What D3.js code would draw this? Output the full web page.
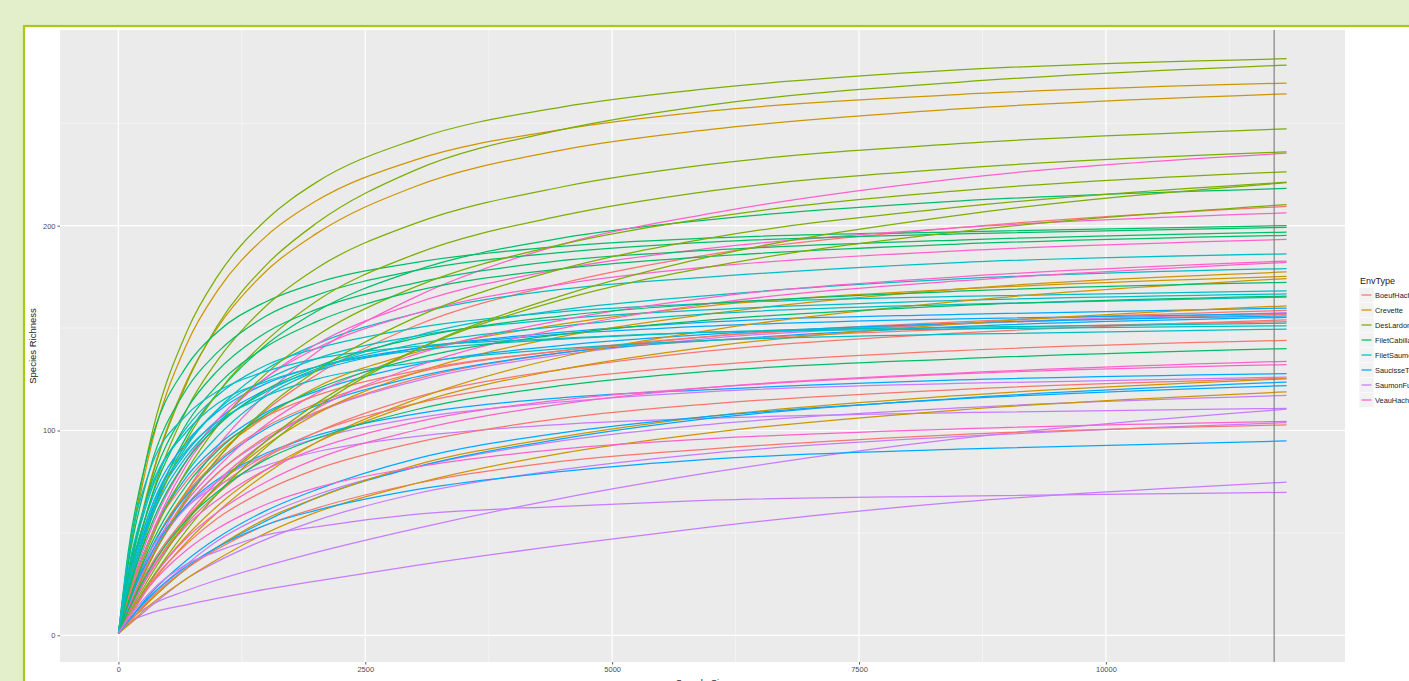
<!DOCTYPE html>
<html>
<head>
<meta charset="utf-8">
<script src="https://cdn.jsdelivr.net/npm/d3@7"></script>
<style>
  html, body { margin: 0; padding: 0; background: #e2efca; overflow: hidden; }
  svg { display: block; }
</style>
</head>
<body>
<svg id="chart" width="1409" height="681"></svg>
<script>
// sample sizes at which each rarefaction curve is read
const depths = [1, 100, 300, 700, 1000, 1500, 2000, 3000, 4500, 6000, 8500, 11830];

const envTypes = ["BoeufHache", "Crevette", "DesLardons", "FiletCabillaud",
  "FiletSaumon", "SaucisseToulouse", "SaumonFume", "VeauHache"];
const envColors = ["#F8766D", "#CD9600", "#7CAE00", "#00BE67",
  "#00BFC4", "#00A9FF", "#C77CFF", "#FF61CC"];

// species richness per sample, one row per sample, values at `depths`
const boeufHache = [
  [1, 13, 35, 68, 86, 110, 127, 151, 172, 186, 199, 209.4],
  [1, 13, 35, 64, 79, 97, 109, 125, 138, 146, 153, 158.6],
  [1, 15, 39, 70, 85, 102, 113, 128, 139, 146, 152, 156.8],
  [1, 11, 29, 55, 69, 87, 99, 116, 130, 139, 147.5, 154],
  [1, 18, 45, 76, 91, 107, 117, 129, 139, 144, 149.5, 153.2],
  [1, 12, 32, 58, 72, 88, 99, 113, 125, 132, 139, 144],
  [1, 9, 24, 45, 57, 71, 81, 94, 106, 113, 120, 125.5],
  [1, 6, 17, 33, 42, 54, 62, 74, 85, 91, 98, 102.8]
];
const crevette = [
  [1, 36, 86, 143, 168, 195, 212, 232, 247, 256, 264, 269.6],
  [1, 29, 71, 125, 150, 178, 196, 219, 237, 247, 257, 264.4],
  [1, 11, 29, 57, 73, 93, 108, 128, 146, 157, 169, 177.4],
  [1, 15, 39, 71, 88, 107, 121, 138, 152, 161, 169, 175.2],
  [1, 8, 23, 46, 60, 79, 94, 115, 136, 149, 163, 174.2],
  [1, 9, 25, 49, 63, 81, 94, 113, 130, 141, 152, 160.9],
  [1, 6, 16, 33, 43, 57, 67, 83, 97, 107, 117, 125.2],
  [1, 5, 14, 28, 37, 50, 60, 74, 89, 99, 110, 118.8]
];
const desLardons = [
  [1, 37, 90, 149, 175, 203, 221, 242, 258, 267, 276, 281.5],
  [1, 27, 70, 124, 151, 181, 201, 227, 247, 259, 270, 278.4],
  [1, 24, 62, 111, 134, 161, 179, 201, 219, 230, 240, 247.3],
  [1, 20, 52, 96, 118, 144, 163, 186, 205, 217, 228, 236],
  [1, 16, 43, 81, 102, 128, 146, 170, 191, 204, 217, 226.3],
  [1, 12, 34, 67, 86, 111, 129, 155, 179, 194, 209, 221.2],
  [1, 9, 25, 52, 69, 92, 111, 139, 166, 185, 205, 221],
  [1, 10, 27, 56, 73, 95, 113, 139, 164, 180, 197, 210.3]
];
const filetCabillaud = [
  [1, 22, 55, 98, 118, 142, 158, 178, 194, 203, 212, 218.2],
  [1, 41, 89, 132, 148, 163, 172, 182, 190, 194, 197, 200],
  [1, 35, 78, 121, 138, 156, 166, 178, 187, 192, 196, 199.2],
  [1, 30, 69, 111, 129, 148, 159, 172, 183, 188, 193, 196.9],
  [1, 26, 62, 104, 122, 141, 153, 168, 179, 185, 191, 195.3],
  [1, 21, 50, 86, 102, 120, 131, 145, 156, 162, 168, 172.3],
  [1, 16, 41, 74, 90, 108, 120, 135, 147, 154, 161, 165.6],
  [1, 12, 31, 57, 70, 86, 96, 110, 122, 129, 135, 140]
];
const filetSaumon = [
  [1, 22, 54, 93, 110, 130, 142, 157, 169, 175, 182, 186.2],
  [1, 18, 45, 80, 97, 117, 129, 146, 159, 166, 174, 179],
  [1, 29, 66, 102, 117, 132, 140, 150, 158, 162, 165.5, 168.2],
  [1, 25, 58, 94, 110, 125, 135, 146, 154.5, 159, 163.5, 166.7],
  [1, 22, 53, 88, 103, 119, 130, 142, 151, 157, 161.6, 165.1],
  [1, 32, 68, 100, 113, 124, 131, 139, 144.6, 148, 150.4, 152.4],
  [1, 39, 78, 108, 119, 129, 135, 141, 145, 148, 149.6, 151.1],
  [1, 26, 58, 91, 104, 117, 125, 133, 140, 144, 147, 149.5]
];
const saucisse = [
  [1, 24, 56, 90, 105, 120, 129, 140, 148, 153, 156.7, 159.7],
  [1, 27, 61, 95, 109, 123, 131, 140, 147, 151, 154.5, 157],
  [1, 19, 45, 78, 92.5, 109, 119, 132, 141.5, 147, 152.3, 156],
  [1, 15, 39, 69, 84, 101, 112, 126, 138, 144, 150.7, 155.2],
  [1, 15, 37, 64, 76, 89, 97.5, 108, 116, 120, 124.7, 127.8],
  [1, 6, 16, 33, 43, 56, 67, 82, 96, 106, 115.7, 123.6],
  [1, 7, 19, 37, 47.5, 61, 71, 86, 99, 107, 115.4, 121.9],
  [1, 7, 18, 34, 43, 54, 61, 71, 80, 86, 90.9, 94.9]
];
const saumonFume = [
  [1, 13, 35, 64, 79, 96, 108.5, 124, 137, 145, 152, 157.5],
  [1, 15, 37, 63, 75, 88, 96, 106, 114, 119, 123, 126],
  [1, 7, 18, 35, 46, 59, 68.5, 82, 95, 103, 111, 117.1],
  [1, 17, 39, 63, 73, 83, 89.5, 97, 103, 106, 108.7, 110.8],
  [1, 7, 14, 22, 27, 34, 40.5, 52, 67, 79.5, 96, 110.4],
  [1, 5, 13, 28, 36, 47, 56, 69, 81, 89, 97, 103.8],
  [1, 6, 10.5, 15, 18, 22.5, 26.5, 34, 44, 53, 65, 74.8],
  [1, 8, 20, 35, 41, 49, 53, 59, 63, 66, 68, 69.8]
];
const veauHache = [
  [1, 13, 36, 71, 92, 118, 138, 165, 191, 206, 223, 235.4],
  [1, 17, 45, 84, 103, 126, 142, 162, 179, 189, 199, 206.2],
  [1, 19, 48, 86, 105, 126, 140, 157, 171.5, 180, 187.7, 193.3],
  [1, 13, 34, 66, 82, 103, 118, 137, 154, 165, 175, 182.7],
  [1, 11, 30, 59, 75, 95, 110.5, 131, 150, 162, 173, 182.1],
  [1, 9, 25, 48, 60, 75, 86, 100, 113, 121, 128, 133.8],
  [1, 11, 29, 54, 66, 81, 91, 104, 115, 121, 127.6, 132.2],
  [1, 9, 23, 42, 52, 64, 72, 82, 91, 96, 100.8, 104.5]
];

const xTicks = [0, 2500, 5000, 7500, 10000];
const yTicks = [0, 100, 200];
const minDepth = 11704;   // vertical reference line

const groups = [boeufHache, crevette, desLardons, filetCabillaud,
  filetSaumon, saucisse, saumonFume, veauHache];

// ---- layout
const panel = { left: 60, right: 1345, top: 30, bottom: 662 };

const xMin = 0, xMax = d3.max(depths);
const yMin = 1, yMax = d3.max(groups.flat(), r => d3.max(r));
const xPad = (xMax - xMin) * 0.05, yPad = (yMax - yMin) * 0.05;

const x = d3.scaleLinear().domain([xMin - xPad, xMax + xPad]).range([panel.left, panel.right]);
const y = d3.scaleLinear().domain([yMin - yPad, yMax + yPad]).range([panel.bottom, panel.top]);

const svg = d3.select("#chart");

// page frame
svg.append("rect").attr("width", 1409).attr("height", 681).attr("fill", "#e2efca");
svg.append("rect")
  .attr("x", 24).attr("y", 26).attr("width", 1420).attr("height", 700)
  .attr("fill", "#ffffff").attr("stroke", "#a6cb16").attr("stroke-width", 2.2);

// panel background
svg.append("rect")
  .attr("x", panel.left).attr("y", panel.top)
  .attr("width", panel.right - panel.left).attr("height", panel.bottom - panel.top)
  .attr("fill", "#ebebeb");

const grid = svg.append("g").attr("id", "grid");
const xMinor = d3.range(-1250, xMax + xPad, 2500).filter(v => x(v) > panel.left && x(v) < panel.right);
const yMinor = [-50, 50, 150, 250].filter(v => y(v) > panel.top && y(v) < panel.bottom);

grid.selectAll(".xminor").data(xMinor).join("line")
  .attr("x1", d => x(d)).attr("x2", d => x(d))
  .attr("y1", panel.top).attr("y2", panel.bottom)
  .attr("stroke", "#fafafa").attr("stroke-width", 0.6);
grid.selectAll(".yminor").data(yMinor).join("line")
  .attr("x1", panel.left).attr("x2", panel.right)
  .attr("y1", d => y(d)).attr("y2", d => y(d))
  .attr("stroke", "#fafafa").attr("stroke-width", 0.6);
grid.selectAll(".xmajor").data(xTicks).join("line")
  .attr("x1", d => x(d)).attr("x2", d => x(d))
  .attr("y1", panel.top).attr("y2", panel.bottom)
  .attr("stroke", "#ffffff").attr("stroke-width", 1.2);
grid.selectAll(".ymajor").data(yTicks).join("line")
  .attr("x1", panel.left).attr("x2", panel.right)
  .attr("y1", d => y(d)).attr("y2", d => y(d))
  .attr("stroke", "#ffffff").attr("stroke-width", 1.2);

// curves
const line = d3.line()
  .x((d, i) => x(depths[i]))
  .y(d => y(d))
  .curve(d3.curveMonotoneX);

// draw samples interleaved across groups, like ggplot's sample order
const curves = [];
for (let i = 0; i < 8; i++) {
  groups.forEach((rows, g) => curves.push({ g, values: rows[i] }));
}

svg.append("g").attr("id", "curves")
  .selectAll("path").data(curves).join("path")
  .attr("d", d => line(d.values))
  .attr("fill", "none")
  .attr("stroke", d => envColors[d.g])
  .attr("stroke-width", 1.25);

// vertical reference line
svg.append("line")
  .attr("x1", x(minDepth)).attr("x2", x(minDepth))
  .attr("y1", panel.top).attr("y2", panel.bottom)
  .attr("stroke", "#7a7a7a").attr("stroke-width", 1.1);

// axes
const xAxis = svg.append("g").attr("transform", `translate(0,${panel.bottom})`)
  .call(d3.axisBottom(x).tickValues(xTicks).tickSize(2.5).tickPadding(2).tickFormat(d3.format("d")));
const yAxis = svg.append("g").attr("transform", `translate(${panel.left},0)`)
  .call(d3.axisLeft(y).tickValues(yTicks).tickSize(2.5).tickPadding(2).tickFormat(d3.format("d")));

[xAxis, yAxis].forEach(a => {
  a.select(".domain").remove();
  a.selectAll("line").attr("stroke", "#333333").attr("stroke-width", 0.8);
  a.selectAll("text").attr("fill", "#4d4d4d")
    .attr("font-family", "Liberation Sans, Arial, sans-serif").attr("font-size", 7.5);
});

svg.append("text")
  .attr("x", (panel.left + panel.right) / 2).attr("y", 686)
  .attr("text-anchor", "middle")
  .attr("font-family", "Liberation Sans, Arial, sans-serif").attr("font-size", 9.5)
  .attr("fill", "#1a1a1a")
  .text("Sample Size");

svg.append("text")
  .attr("transform", `translate(36,${(panel.top + panel.bottom) / 2}) rotate(-90)`)
  .attr("text-anchor", "middle")
  .attr("font-family", "Liberation Sans, Arial, sans-serif").attr("font-size", 9.5)
  .attr("fill", "#1a1a1a")
  .text("Species Richness");

// legend
const legend = svg.append("g").attr("transform", "translate(1359,0)");
legend.append("text")
  .attr("x", 1).attr("y", 284)
  .attr("font-family", "Liberation Sans, Arial, sans-serif").attr("font-size", 9)
  .attr("fill", "#1a1a1a")
  .text("EnvType");

const keySize = 15;
const items = legend.selectAll(".item").data(envTypes).join("g")
  .attr("transform", (d, i) => `translate(0,${287.5 + i * keySize})`);
items.append("rect")
  .attr("width", keySize).attr("height", keySize)
  .attr("fill", "#f2f2f2").attr("stroke", "#ffffff").attr("stroke-width", 0.5);
items.append("line")
  .attr("x1", 2.5).attr("x2", keySize - 2.5)
  .attr("y1", keySize / 2).attr("y2", keySize / 2)
  .attr("stroke", (d, i) => envColors[i]).attr("stroke-width", 1.25);
items.append("text")
  .attr("x", keySize + 1).attr("y", keySize / 2).attr("dy", "0.35em")
  .attr("font-family", "Liberation Sans, Arial, sans-serif").attr("font-size", 7.4)
  .attr("fill", "#1a1a1a")
  .text(d => d);
</script>
</body>
</html>
